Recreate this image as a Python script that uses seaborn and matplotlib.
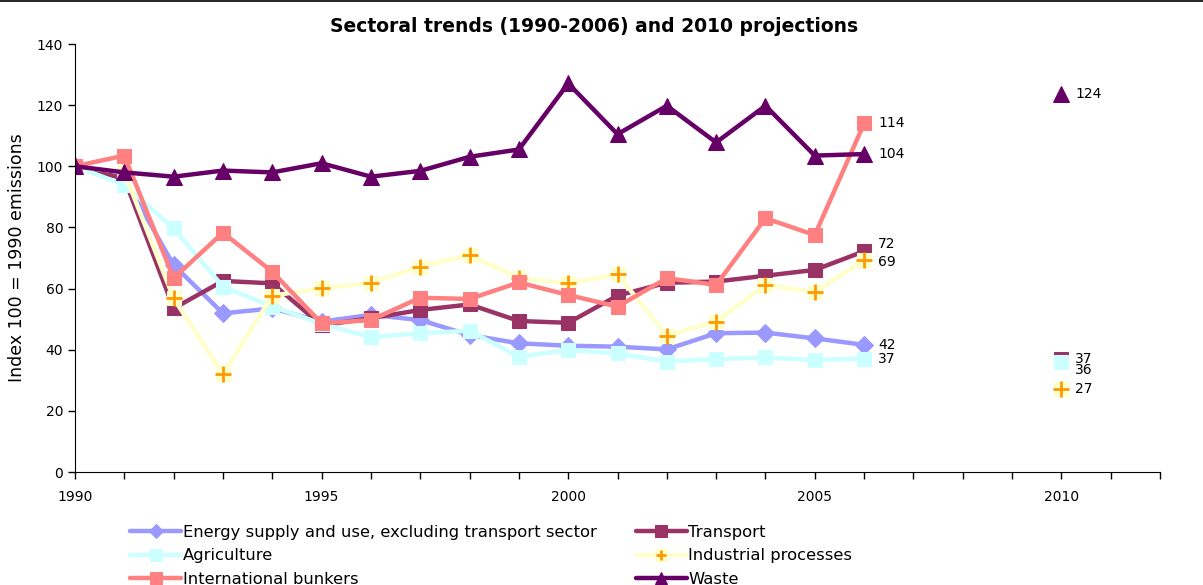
import numpy as np
import pandas as pd
import seaborn as sns
import matplotlib
matplotlib.use('Agg')
from matplotlib import pyplot as plt
from matplotlib.lines import Line2D

# data
years = list(range(1990, 2007))
energy = [100, 96, 67.7, 51.9, 53.5, 49.2, 51.4, 49.7, 44.8, 42.1, 41.3, 41.0, 40.1, 45.4, 45.6, 43.7, 41.6]
transport = [100, 96, 53.5, 62.5, 61.7, 48, 50.3, 53, 54.8, 49.4, 48.8, 57.7, 61.9, 62.3, 64.2, 66.1, 72.2]
agriculture = [100, 93.9, 79.7, 60.6, 54.1, 48.5, 44.1, 45.4, 46.2, 37.7, 39.9, 38.8, 36.1, 36.9, 37.5, 36.6, 37.1]
industrial = [100, 98, 56.8, 32, 57.7, 60.1, 61.9, 67.2, 71, 63.4, 61.7, 64.7, 44.6, 49.2, 61.2, 58.8, 69.3]
bunkers = [100, 103.5, 63.4, 78.3, 65.5, 48.6, 49.7, 57, 56.6, 62, 57.9, 54.1, 63.4, 61.2, 83, 77.5, 114]
waste = [100, 98, 96.6, 98.6, 98, 101, 96.6, 98.5, 103.1, 105.5, 127.1, 110.5, 119.8, 107.8, 119.8, 103.5, 104]

proj_year = 2010
proj_transport = 37
proj_agriculture = 36
proj_industrial = 27
proj_waste = 123.8

names = ['Energy supply and use, excluding transport sector', 'Transport', 'Agriculture',
         'Industrial processes', 'International bunkers', 'Waste']

sns.set_style('ticks')
plt.rcParams['font.family'] = ['DejaVu Sans']
plt.rcParams.update({'text.color': 'black', 'axes.labelcolor': 'black',
                     'xtick.color': 'black', 'ytick.color': 'black',
                     'axes.edgecolor': 'black'})

fig = plt.figure(figsize=(12.03, 5.85), dpi=100)
ax = fig.add_axes([75 / 1203, 1 - 472 / 585, (1160 - 75) / 1203, (472 - 44) / 585])

LW = 3.2
ORANGE = '#FF9900'

sns.lineplot(x=years, y=energy, color='#9999FF', lw=LW, marker='D', markersize=9,
             markeredgecolor='#9999FF', ax=ax, label=names[0])
sns.lineplot(x=years, y=transport, color='#993366', lw=LW, marker='s', markersize=10,
             markeredgecolor='#993366', ax=ax, label=names[1])
sns.lineplot(x=years, y=agriculture, color='#CCFFFF', lw=LW, marker='s', markersize=10,
             markeredgecolor='#CCFFFF', ax=ax, label=names[2])
sns.lineplot(x=years, y=industrial, color='#FFFFCC', lw=LW, marker='s', markersize=10,
             markeredgecolor='#FFFFCC', ax=ax, label=names[3])
sns.lineplot(x=years, y=industrial, color=ORANGE, ls='', marker='+', markersize=11,
             markeredgewidth=2, markeredgecolor=ORANGE, ax=ax)
sns.lineplot(x=years, y=bunkers, color='#FF8080', lw=LW, marker='s', markersize=10,
             markeredgecolor='#FF8080', ax=ax, label=names[4])
sns.lineplot(x=years, y=waste, color='#660066', lw=LW, marker='^', markersize=11,
             markeredgecolor='#660066', ax=ax, label=names[5])

# 2010 projections
sns.lineplot(x=[proj_year], y=[proj_transport], color='#993366', marker='s', markersize=10,
             markeredgecolor='#993366', ls='', ax=ax)
sns.lineplot(x=[proj_year], y=[proj_agriculture], color='#CCFFFF', marker='s', markersize=10,
             markeredgecolor='#CCFFFF', ls='', ax=ax)
sns.lineplot(x=[proj_year], y=[proj_industrial], color='#FFFFCC', marker='s', markersize=10,
             markeredgecolor='#FFFFCC', ls='', ax=ax)
sns.lineplot(x=[proj_year], y=[proj_industrial], color=ORANGE, marker='+', markersize=11,
             markeredgewidth=2, markeredgecolor=ORANGE, ls='', ax=ax)
sns.lineplot(x=[proj_year], y=[proj_waste], color='#660066', marker='^', markersize=11,
             markeredgecolor='#660066', ls='', ax=ax)

# value labels
end_labels = [(energy[-1], 0), (transport[-1], 5), (agriculture[-1], 0),
              (industrial[-1], -1), (bunkers[-1], 0), (waste[-1], 0)]
for v, dy in end_labels:
    ax.annotate(f'{v:.0f}', (years[-1], v), xytext=(10, dy), textcoords='offset points',
                va='center', ha='left', fontsize=10)
proj_labels = [(proj_transport, 0), (proj_agriculture, -6), (proj_industrial, 0), (proj_waste, 0)]
for v, dy in proj_labels:
    ax.annotate(f'{v:.0f}', (proj_year, v), xytext=(10, dy), textcoords='offset points',
                va='center', ha='left', fontsize=10)

ax.set_xlim(1990, 2012)
ax.set_ylim(0, 140)
ax.set_xticks(range(1990, 2011, 5))
ax.set_xticks(range(1990, 2013), minor=True)
ax.set_yticks(range(0, 141, 20))
ax.tick_params(axis='both', labelsize=10, length=5, width=1, color='black')
ax.tick_params(axis='x', which='both', length=5, width=1, pad=8)
sns.despine(ax=ax)
ax.set_ylabel('Index 100 = 1990 emissions', fontsize=12.5, labelpad=8)
ax.set_xlabel('')

fig.text(594 / 1203, 1 - 27 / 585, 'Sectoral trends (1990-2006) and 2010 projections',
         ha='center', va='center', fontsize=13.5, fontweight='bold')

# legend (column-major order to match the 2-column layout)
h, l = ax.get_legend_handles_labels()
ax.get_legend().remove()
hd = dict(zip(l, h))
ind_handle = (hd[names[3]], Line2D([], [], color=ORANGE, marker='+', ls='', markersize=9,
                                   markeredgewidth=2))
order = [names[0], names[2], names[4], names[1], names[3], names[5]]
handles = [ind_handle if n == names[3] else hd[n] for n in order]
fig.legend(handles, order, loc='upper left', bbox_to_anchor=(122 / 1203, 1 - 517 / 585),
           ncol=2, frameon=False, fontsize=11.8, handlelength=3.1, handletextpad=0.1,
           labelspacing=0.5, columnspacing=2.4, markerscale=0.8, borderpad=0)

fig.add_artist(Line2D([0, 1], [1 - 0.8 / 585, 1 - 0.8 / 585], color='black', lw=1.2,
                      transform=fig.transFigure))

fig.savefig('out.png', dpi=100)
